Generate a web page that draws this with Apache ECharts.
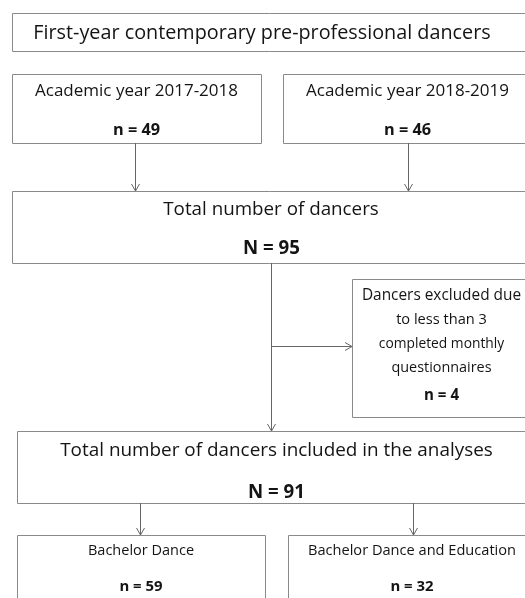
<!DOCTYPE html>
<html>
<head>
<meta charset="utf-8">
<script src="https://cdn.jsdelivr.net/npm/echarts@6/dist/echarts.min.js"></script>
<style>
html,body{margin:0;padding:0;background:#fff;}
#chart{width:525px;height:598px;}
</style>
</head>
<body>
<div id="chart"></div>
<script>
// ---- Data ----
const headerTitle = "First-year contemporary pre-professional dancers";
const cohortLabels = ["Academic year 2017-2018", "Academic year 2018-2019"];
const cohortCounts = [49, 46];
const totalLabel = "Total number of dancers";
const totalCount = 95;
const excludedLines = ["Dancers excluded due", "to less than 3", "completed monthly", "questionnaires"];
const excludedCount = 4;
const includedLabel = "Total number of dancers included in the analyses";
const includedCount = 91;
const programLabels = ["Bachelor Dance", "Bachelor Dance and Education"];
const programCounts = [59, 32];

// ---- Layout (pixels) ----
const FONT = "'Open Sans', 'DejaVu Sans', sans-serif";
const TEXT_COLOR = "#141414";
const BORDER = "#8a8a8a";
const ARROW = "#666666";

const ctx = document.createElement('canvas').getContext('2d');
function fitSize(text, targetW, weight) {
  ctx.font = weight + ' 100px ' + FONT;
  const w = ctx.measureText(text).width;
  return Math.round(100 * targetW / w * 10) / 10;
}

const chart = echarts.init(document.getElementById('chart'), null, {renderer: 'canvas'});
const els = [];

function box(x, y, w, h) {
  els.push({type: 'rect', shape: {x: x + 0.5, y: y + 0.5, width: w, height: h},
    style: {fill: '#fff', stroke: BORDER, lineWidth: 1}, z: 1});
}
function label(text, cx, cy, targetW, bold) {
  const weight = bold ? 'bold' : 'normal';
  els.push({type: 'text', x: cx, y: cy, z: 3,
    style: {text: text, fill: TEXT_COLOR, font: weight + ' ' + fitSize(text, targetW, weight) + 'px ' + FONT,
      align: 'center', verticalAlign: 'middle'}});
}
function vArrow(x, y1, y2) {
  els.push({type: 'line', shape: {x1: x + 0.5, y1: y1, x2: x + 0.5, y2: y2}, style: {stroke: ARROW, lineWidth: 1}, z: 2});
  els.push({type: 'polyline', shape: {points: [[x - 4 + 0.5, y2 - 7], [x + 0.5, y2], [x + 4 + 0.5, y2 - 7]]},
    style: {stroke: ARROW, lineWidth: 1, fill: null}, z: 2});
}
function hArrow(y, x1, x2) {
  els.push({type: 'line', shape: {x1: x1, y1: y + 0.5, x2: x2, y2: y + 0.5}, style: {stroke: ARROW, lineWidth: 1}, z: 2});
  els.push({type: 'polyline', shape: {points: [[x2 - 7, y - 4 + 0.5], [x2, y + 0.5], [x2 - 7, y + 4 + 0.5]]},
    style: {stroke: ARROW, lineWidth: 1, fill: null}, z: 2});
}

// header
box(12, 13, 540, 38);
label(headerTitle, 262, 33, 458, false);

// cohorts
const cohortBoxes = [{x: 12, w: 249, cx: 136.5, tw: 203, nw: 47}, {x: 283, w: 260, cx: 407.5, tw: 203, nw: 47}];
const arrowX1 = [135, 408];
cohortLabels.forEach((t, i) => {
  const b = cohortBoxes[i];
  box(b.x, 74, b.w, 69);
  label(t, b.cx, 91, b.tw, false);
  label('n = ' + cohortCounts[i], b.cx, 130, b.nw, true);
  vArrow(arrowX1[i], 143, 191);
});

// total
box(12, 191, 540, 72);
label(totalLabel, 271, 210, 216, false);
label('N = ' + totalCount, 271.5, 249, 57, true);
vArrow(271, 263, 431);
hArrow(346, 271, 352);

// excluded
box(352, 279, 200, 138);
const exW = [159, 91, 125, 100];
const exY = [296, 320, 344, 368];
excludedLines.forEach((t, i) => label(t, 441.5, exY[i], exW[i], false));
label('n = ' + excludedCount, 441.5, 396, 35, true);

// included
box(17, 431, 540, 72);
label(includedLabel, 276.5, 451, 433, false);
label('N = ' + includedCount, 276.5, 493, 57, true);

// programs
const progBoxes = [{x: 17, w: 248, cx: 141, tw: 106}, {x: 288, w: 260, cx: 412, tw: 208}];
const arrowX2 = [140, 413];
programLabels.forEach((t, i) => {
  const b = progBoxes[i];
  vArrow(arrowX2[i], 503, 535);
  box(b.x, 535, b.w, 90);
  label(t, b.cx, 551, b.tw, false);
  label('n = ' + programCounts[i], b.cx, 587, 43, true);
});

chart.setOption({
  animation: false,
  backgroundColor: '#ffffff',
  graphic: {elements: els}
});
</script>
</body>
</html>
